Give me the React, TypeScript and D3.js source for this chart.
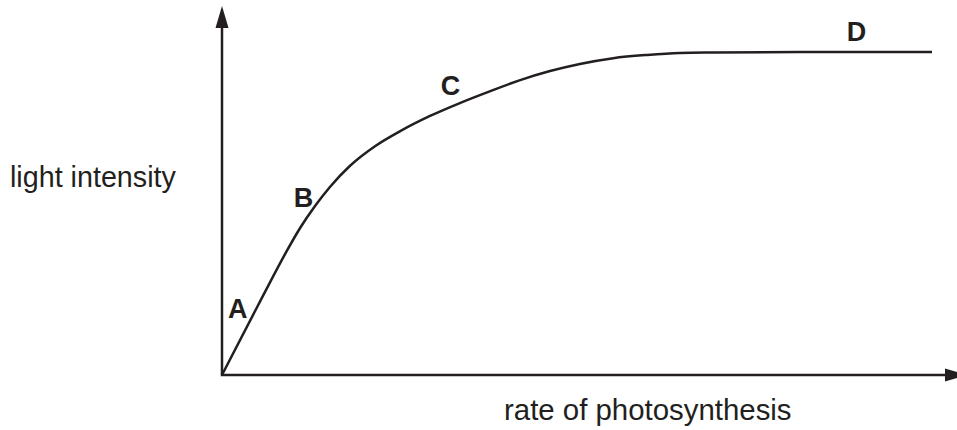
import * as d3 from 'd3';
import React from 'react';

// curve (arbitrary units, 0..100 on both axes)
const rateVals = [0, 5.6, 8.9, 11.0, 13.1, 15.2, 18.0, 21.6, 25.1, 29.3, 33.5, 37.8, 42.0, 46.2, 50.4, 55.1, 59.9, 64.5, 69.2, 81.4, 100];
const intensityVals = [0, 23.8, 37.5, 45.5, 52.3, 58.2, 64.7, 70.9, 75.5, 80.2, 84.2, 87.9, 91.3, 94.1, 96.3, 98.1, 99.1, 99.7, 99.85, 100, 100];

const pointNames = ['A', 'B', 'C', 'D'];
const pointRate = [0.85, 10.1, 30.8, 88.0];
const pointIntensity = [17.6, 52.0, 86.7, 103.4];

const xLabel = 'rate of photosynthesis';
const yLabel = 'light intensity';

const W = 957;
const H = 430;
const ink = '#231f20';
const font = '"Liberation Sans", Arial, Helvetica, sans-serif';

export default function App() {
  const x = d3.scaleLinear().domain([0, 100]).range([222, 932]);
  const y = d3.scaleLinear().domain([0, 100]).range([375, 52]);

  const data = rateVals.map((r, i) => [r, intensityVals[i]] as [number, number]);
  const line = d3.line<[number, number]>()
    .x(d => x(d[0]))
    .y(d => y(d[1]))
    .curve(d3.curveMonotoneX);

  const x0 = x(0);
  const y0 = y(0);
  const yTop = 6;       // arrow tip of vertical axis
  const xEnd = 967;     // arrow tip of horizontal axis (runs off the edge)
  const headLen = 22;
  const headHalf = 6.5;

  return (
    <svg width={W} height={H} style={{ position: 'absolute', left: 0, top: 0, background: '#fff' }}>
      {/* axes */}
      <line x1={x0} y1={y0} x2={x0} y2={yTop + headLen} stroke={ink} strokeWidth={2.5} />
      <polygon
        points={`${x0},${yTop} ${x0 - headHalf},${yTop + headLen} ${x0 + headHalf},${yTop + headLen}`}
        fill={ink}
      />
      <line x1={x0 - 1.2} y1={y0} x2={xEnd - headLen} y2={y0} stroke={ink} strokeWidth={2.5} />
      <polygon
        points={`${xEnd},${y0} ${xEnd - headLen},${y0 - headHalf} ${xEnd - headLen},${y0 + headHalf}`}
        fill={ink}
      />

      {/* curve */}
      <path d={line(data) || ''} fill="none" stroke={ink} strokeWidth={2.5} strokeLinejoin="round" />

      {/* point labels */}
      {pointNames.map((t, i) => (
        <text
          key={t}
          x={x(pointRate[i])}
          y={y(pointIntensity[i])}
          fontFamily={font}
          fontWeight="bold"
          fontSize={27}
          fill={ink}
        >
          {t}
        </text>
      ))}

      {/* axis titles */}
      <text x={10} y={187} fontFamily={font} fontSize={28.7} fill={ink}>{yLabel}</text>
      <text x={504} y={420} fontFamily={font} fontSize={29.4} fill={ink}>{xLabel}</text>
    </svg>
  );
}
